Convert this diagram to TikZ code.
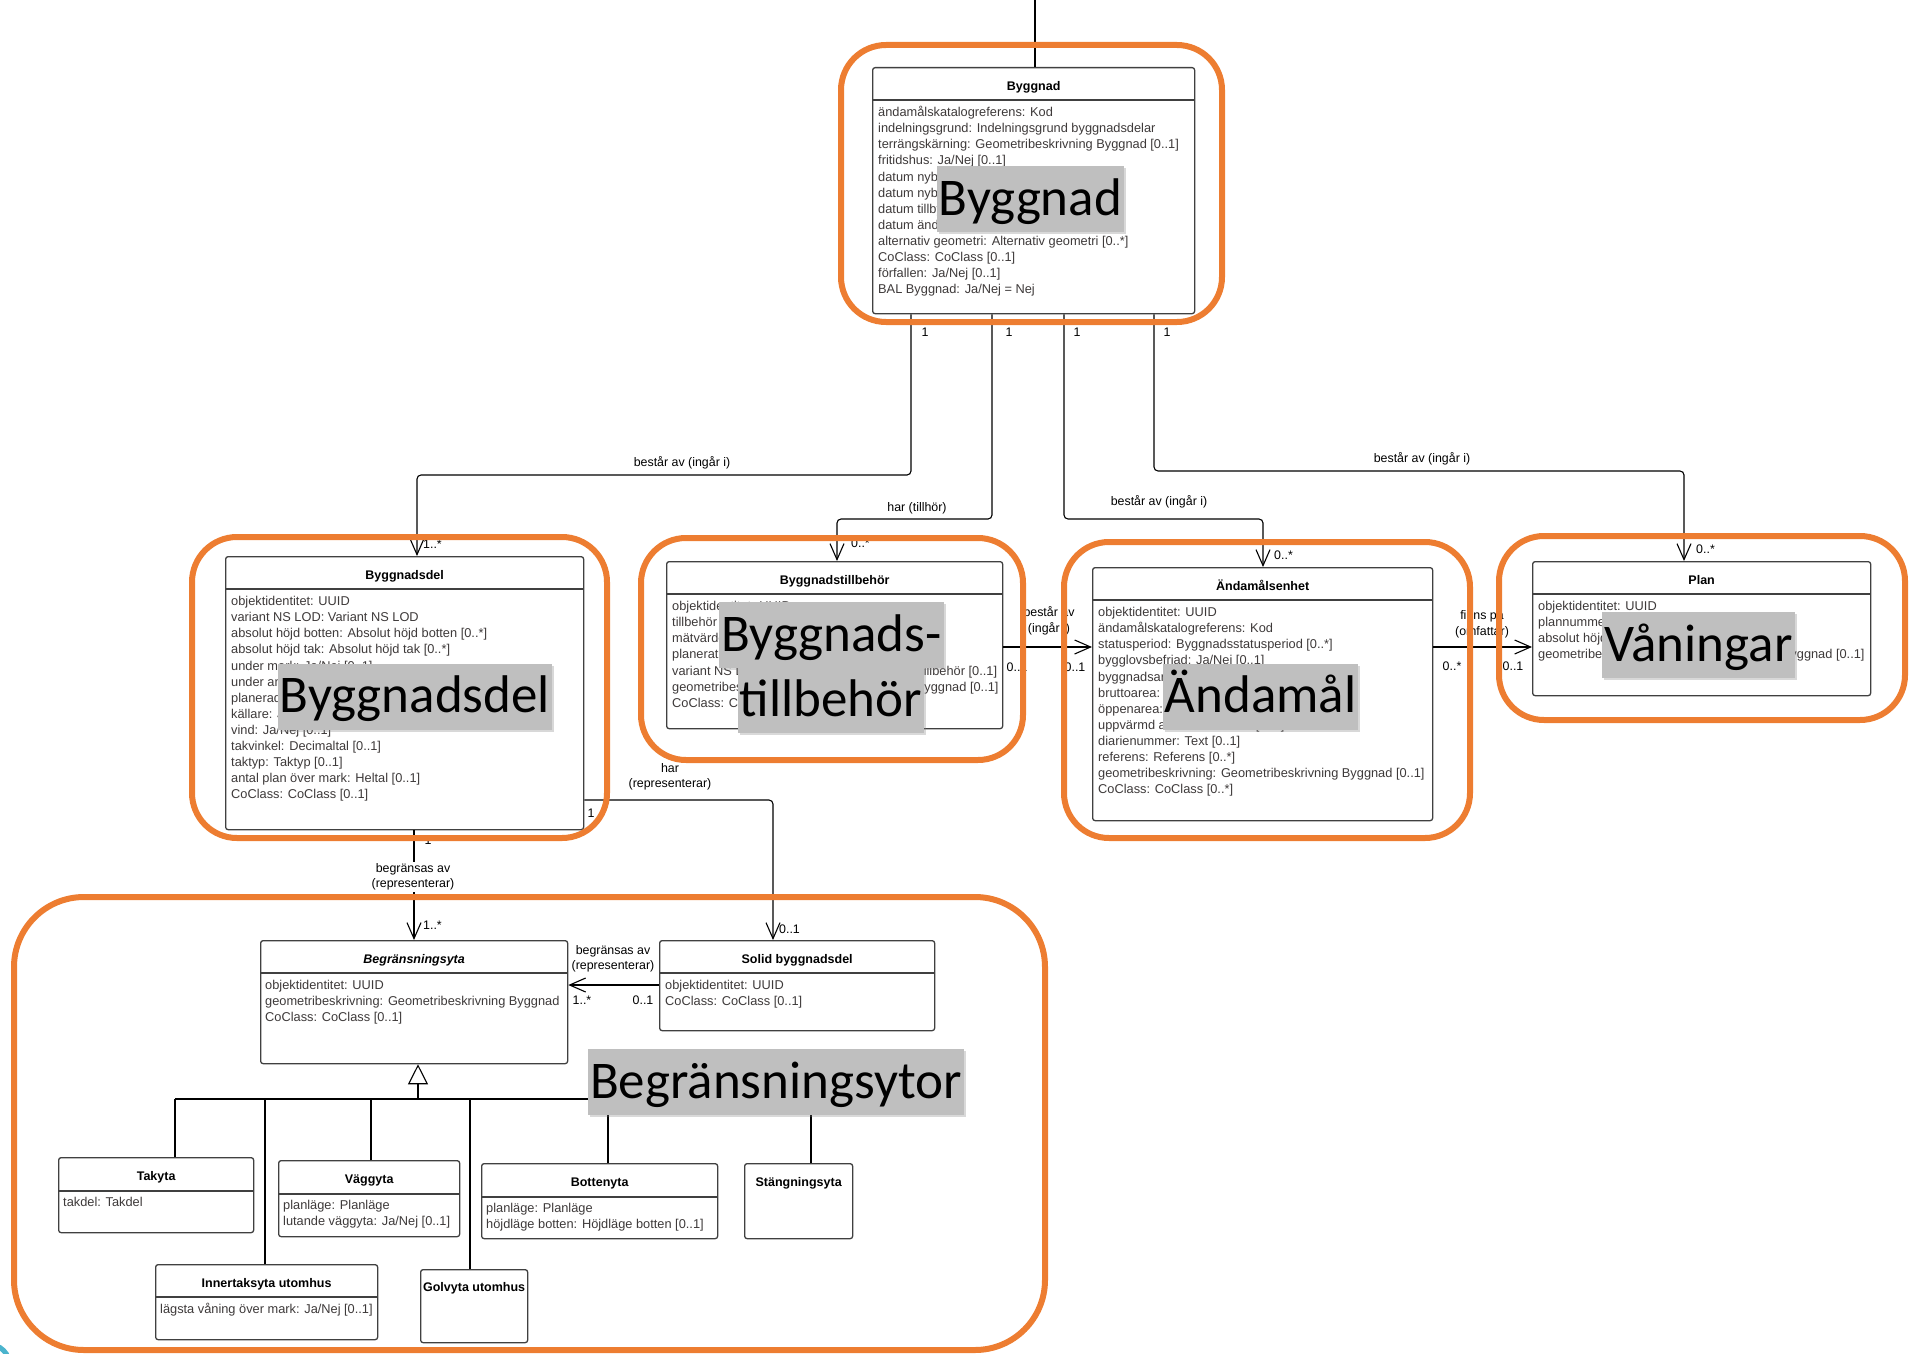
\documentclass[tikz,border=0pt]{standalone}
\usepackage{fontspec}
\setmainfont{Liberation Sans}
\newfontfamily\tagfont{Carlito}
\usetikzlibrary{arrows.meta,shadows}

\definecolor{frameorange}{RGB}{237,125,49}
\definecolor{tagfill}{RGB}{191,191,191}
\definecolor{boxline}{RGB}{64,64,64}
\definecolor{attrtext}{RGB}{62,58,58}
\definecolor{cornerteal}{RGB}{75,180,205}

\newcommand\attrfont{\fontsize{12.8}{16.1}\selectfont}
\newcommand\titlefont{\bfseries\fontsize{12.5}{15}\selectfont}
\newcommand\linkfont{\fontsize{12.4}{15.5}\selectfont}

\begin{document}
\begin{tikzpicture}[x=1pt, y=-1pt,
    classbox/.style={draw=boxline, line width=1.3pt, rounded corners=2.5pt,
      fill=white, inner sep=0pt, anchor=north west},
    classline/.style={draw=boxline, line width=1.3pt},
    classtitle/.style={font=\titlefont, anchor=base, inner sep=0pt},
    attrlist/.style={font=\attrfont, text=attrtext, align=left,
      anchor=north west, inner sep=0pt},
    link/.style={draw=black, line width=1.1pt, rounded corners=4pt},
    assoc/.style={link, -{Straight Barb[length=16pt, width=14pt]}},
    generalize/.style={link, -{Triangle[fill=white, length=20pt, width=20pt]}},
    mult/.style={font=\linkfont, inner sep=0pt},
    rolelabel/.style={font=\linkfont, align=center, inner sep=1pt},
    overlaytag/.style={fill=tagfill, font=\tagfont\fontsize{53}{53}\selectfont,
      text height=40pt, text depth=8pt, inner xsep=2pt, inner ysep=9pt,
      drop shadow={shadow xshift=2pt, shadow yshift=-2pt, opacity=0.3}},
    areaframe/.style={draw=frameorange, line width=6pt, rounded corners=45pt}]

  \useasboundingbox (0,0) rectangle (1909,1354);

  % classes
  \node[classbox, minimum width=322pt, minimum height=246pt] (byggnad) at (872,67) {};
  \draw[classline] ([yshift=-33pt]byggnad.north west) -- ([yshift=-33pt]byggnad.north east);
  \node[classtitle] (byggnad-title) at ([yshift=-23pt]byggnad.north) {Byggnad};
  \node[attrlist] (byggnad-attr) at ([xshift=6pt, yshift=-38.2pt]byggnad.north west)
  {\strut ändamålskatalogreferens: Kod\\
    indelningsgrund: Indelningsgrund byggnadsdelar\\
    terrängskärning: Geometribeskrivning Byggnad [0..1]\\
    fritidshus: Ja/Nej [0..1]\\
    datum nybyggnad\\
    datum nybyggnad\\
    datum tillbyggnad\\
    datum ändring\\
    alternativ geometri: Alternativ geometri [0..*]\\
    CoClass: CoClass [0..1]\\
    förfallen: Ja/Nej [0..1]\\
    BAL Byggnad: Ja/Nej = Nej};

  \node[classbox, minimum width=358pt, minimum height=273pt] (byggnadsdel) at (225,556) {};
  \draw[classline] ([yshift=-33pt]byggnadsdel.north west) -- ([yshift=-33pt]byggnadsdel.north east);
  \node[classtitle] (byggnadsdel-title) at ([yshift=-23pt]byggnadsdel.north) {Byggnadsdel};
  \node[attrlist] (byggnadsdel-attr) at ([xshift=6pt, yshift=-38.2pt]byggnadsdel.north west)
  {\strut objektidentitet: UUID\\
    variant NS LOD: Variant NS LOD\\
    absolut höjd botten: Absolut höjd botten [0..*]\\
    absolut höjd tak: Absolut höjd tak [0..*]\\
    under mark: Ja/Nej [0..1]\\
    under annan\\
    planerad\\
    källare: Ja/Nej\\
    vind: Ja/Nej [0..1]\\
    takvinkel: Decimaltal [0..1]\\
    taktyp: Taktyp [0..1]\\
    antal plan över mark: Heltal [0..1]\\
    CoClass: CoClass [0..1]};

  \node[classbox, minimum width=336pt, minimum height=167pt] (tillbehor) at (666,561) {};
  \draw[classline] ([yshift=-33pt]tillbehor.north west) -- ([yshift=-33pt]tillbehor.north east);
  \node[classtitle] (tillbehor-title) at ([yshift=-23pt]tillbehor.north) {Byggnadstillbehör};
  \node[attrlist] (tillbehor-attr) at ([xshift=6pt, yshift=-38.2pt]tillbehor.north west)
  {\strut objektidentitet: UUID\\
    tillbehör\\
    mätvärde\\
    planerat\\
    variant NS LOD: Variant NS LOD Byggnadstillbehör [0..1]\\
    geometribeskrivning: Geometribeskrivning Byggnad [0..1]\\
    CoClass: CoClass [0..1]};

  \node[classbox, minimum width=340pt, minimum height=253pt] (andamal) at (1092,567) {};
  \draw[classline] ([yshift=-33pt]andamal.north west) -- ([yshift=-33pt]andamal.north east);
  \node[classtitle] (andamal-title) at ([yshift=-23pt]andamal.north) {Ändamålsenhet};
  \node[attrlist] (andamal-attr) at ([xshift=6pt, yshift=-38.2pt]andamal.north west)
  {\strut objektidentitet: UUID\\
    ändamålskatalogreferens: Kod\\
    statusperiod: Byggnadsstatusperiod [0..*]\\
    bygglovsbefriad: Ja/Nej [0..1]\\
    byggnadsarea\\
    bruttoarea:\\
    öppenarea:\\
    uppvärmd area: Decimaltal [0..1]\\
    diarienummer: Text [0..1]\\
    referens: Referens [0..*]\\
    geometribeskrivning: Geometribeskrivning Byggnad [0..1]\\
    CoClass: CoClass [0..*]};

  \node[classbox, minimum width=338pt, minimum height=134pt] (plan) at (1532,561) {};
  \draw[classline] ([yshift=-33pt]plan.north west) -- ([yshift=-33pt]plan.north east);
  \node[classtitle] (plan-title) at ([yshift=-23pt]plan.north) {Plan};
  \node[attrlist] (plan-attr) at ([xshift=6pt, yshift=-38.2pt]plan.north west)
  {\strut objektidentitet: UUID\\
    plannummer\\
    absolut höjd\\
    geometribeskrivning: Geometribeskrivning Byggnad [0..1]};

  \node[classbox, minimum width=307pt, minimum height=123pt] (begr) at (260,940) {};
  \draw[classline] ([yshift=-33pt]begr.north west) -- ([yshift=-33pt]begr.north east);
  \node[classtitle] (begr-title) at ([yshift=-23pt]begr.north) {\itshape Begränsningsyta};
  \node[attrlist] (begr-attr) at ([xshift=5pt, yshift=-38.2pt]begr.north west)
  {\strut objektidentitet: UUID\\
    geometribeskrivning: Geometribeskrivning Byggnad\\
    CoClass: CoClass [0..1]};

  \node[classbox, minimum width=275pt, minimum height=90pt] (solid) at (659,940) {};
  \draw[classline] ([yshift=-33pt]solid.north west) -- ([yshift=-33pt]solid.north east);
  \node[classtitle] (solid-title) at ([yshift=-23pt]solid.north) {Solid byggnadsdel};
  \node[attrlist] (solid-attr) at ([xshift=6pt, yshift=-38.2pt]solid.north west)
  {\strut objektidentitet: UUID\\
    CoClass: CoClass [0..1]};

  \node[classbox, minimum width=195pt, minimum height=75pt] (takyta) at (58,1157) {};
  \draw[classline] ([yshift=-34pt]takyta.north west) -- ([yshift=-34pt]takyta.north east);
  \node[classtitle] (takyta-title) at ([yshift=-23pt]takyta.north) {Takyta};
  \node[attrlist] (takyta-attr) at ([xshift=5pt, yshift=-38.2pt]takyta.north west)
  {\strut takdel: Takdel};

  \node[classbox, minimum width=181pt, minimum height=76pt] (vaggyta) at (278,1160) {};
  \draw[classline] ([yshift=-34pt]vaggyta.north west) -- ([yshift=-34pt]vaggyta.north east);
  \node[classtitle] (vaggyta-title) at ([yshift=-23pt]vaggyta.north) {Väggyta};
  \node[attrlist] (vaggyta-attr) at ([xshift=5pt, yshift=-38.2pt]vaggyta.north west)
  {\strut planläge: Planläge\\
    lutande väggyta: Ja/Nej [0..1]};

  \node[classbox, minimum width=236pt, minimum height=75pt] (bottenyta) at (481,1163) {};
  \draw[classline] ([yshift=-34pt]bottenyta.north west) -- ([yshift=-34pt]bottenyta.north east);
  \node[classtitle] (bottenyta-title) at ([yshift=-23pt]bottenyta.north) {Bottenyta};
  \node[attrlist] (bottenyta-attr) at ([xshift=5pt, yshift=-38.2pt]bottenyta.north west)
  {\strut planläge: Planläge\\
    höjdläge botten: Höjdläge botten [0..1]};

  \node[classbox, minimum width=108pt, minimum height=75pt] (stangning) at (744,1163) {};
  \node[classtitle] (stangning-title) at ([yshift=-23pt]stangning.north) {Stängningsyta};

  \node[classbox, minimum width=222pt, minimum height=75pt] (innertak) at (155,1264) {};
  \draw[classline] ([yshift=-33pt]innertak.north west) -- ([yshift=-33pt]innertak.north east);
  \node[classtitle] (innertak-title) at ([yshift=-23pt]innertak.north) {Innertaksyta utomhus};
  \node[attrlist] (innertak-attr) at ([xshift=5pt, yshift=-38.2pt]innertak.north west)
  {\strut lägsta våning över mark: Ja/Nej [0..1]};

  \node[classbox, minimum width=107pt, minimum height=73pt] (golvyta) at (420,1269) {};
  \node[classtitle] (golvyta-title) at ([yshift=-22pt]golvyta.north) {Golvyta utomhus};

  % associations from Byggnad
  \coordinate (topin) at (1035,0);
  \draw[link] ([xshift=163pt]byggnad.north west) -- (topin);

  \coordinate (s1) at ([xshift=39pt]byggnad.south west);
  \coordinate (s2) at ([xshift=120pt]byggnad.south west);
  \coordinate (s3) at ([xshift=192pt]byggnad.south west);
  \coordinate (s4) at ([xshift=282pt]byggnad.south west);
  \coordinate (t1) at ([xshift=192pt]byggnadsdel.north west);
  \coordinate (t2) at ([xshift=171pt]tillbehor.north west);
  \coordinate (t3) at ([xshift=171pt]andamal.north west);
  \coordinate (t4) at ([xshift=152pt]plan.north west);
  \coordinate (bend1) at (0,475);
  \coordinate (bend2) at (0,519);
  \coordinate (bend4) at (0,471);

  \draw[assoc] (s1) -- (s1 |- bend1) -- (t1 |- bend1) -- (t1);
  \draw[assoc] (s2) -- (s2 |- bend2) -- (t2 |- bend2) -- (t2);
  \draw[assoc] (s3) -- (s3 |- bend2) -- (t3 |- bend2) -- (t3);
  \draw[assoc] (s4) -- (s4 |- bend4) -- (t4 |- bend4) -- (t4);

  \node[rolelabel] (l1) at (682,463) {består av (ingår i)};
  \node[rolelabel] (l2) at (917,508) {har (tillhör)};
  \node[rolelabel] (l3) at (1159,502) {består av (ingår i)};
  \node[rolelabel] (l4) at (1422,459) {består av (ingår i)};
  \node[mult] (m1a) at (925,332) {1};
  \node[mult] (m2a) at (1009,332) {1};
  \node[mult] (m3a) at (1077,332) {1};
  \node[mult] (m4a) at (1167,332) {1};
  \node[mult, anchor=west] (m1b) at (423,544) {1..*};
  \node[mult, anchor=west] (m2b) at (851,543) {0..*};
  \node[mult, anchor=west] (m3b) at (1274,555) {0..*};
  \node[mult, anchor=west] (m4b) at (1696,549) {0..*};

  % side associations
  \draw[assoc] ([yshift=-86pt]tillbehor.north east) -- ([yshift=-80pt]andamal.north west);
  \node[rolelabel] (l5) at (1049,621) {består av\\(ingår i)};
  \node[mult] (m5a) at (1017,667) {0..1};
  \node[mult] (m5b) at (1075,667) {0..1};

  \draw[assoc] ([yshift=-80pt]andamal.north east) -- ([yshift=-86pt]plan.north west);
  \node[rolelabel] (l6) at (1482,624) {finns på\\(omfattar)};
  \node[mult] (m6a) at (1452,666) {0..*};
  \node[mult] (m6b) at (1513,666) {0..1};

  % Byggnadsdel to surfaces
  \draw[assoc] ([xshift=189pt]byggnadsdel.south west) -- ([xshift=154pt]begr.north west);
  \node[rolelabel, fill=white] (l7) at (413,877) {begränsas av\\(representerar)};
  \node[mult] (m7a) at (428,840) {1};
  \node[mult, anchor=west] (m7b) at (423,925) {1..*};

  \coordinate (s8) at ([yshift=-244pt]byggnadsdel.north east);
  \coordinate (t8) at ([xshift=114pt]solid.north west);
  \draw[assoc] (s8) -- (t8 |- s8) -- (t8);
  \node[rolelabel] (l8) at (670,777) {har\\(representerar)};
  \node[mult] (m8a) at (591,813) {1};
  \node[mult, anchor=west] (m8b) at (779,929) {0..1};

  \draw[assoc] ([yshift=-45pt]solid.north west) -- ([yshift=-45pt]begr.north east);
  \node[rolelabel] (l9) at (613,959) {begränsas av\\(representerar)};
  \node[mult] (m9a) at (582,1000) {1..*};
  \node[mult] (m9b) at (643,1000) {0..1};

  % generalisation
  \coordinate (gtip) at ([xshift=158pt]begr.south west);
  \coordinate (gbus) at (0,1099);
  \coordinate (g1) at ([xshift=117pt]takyta.north west);
  \coordinate (g2) at ([xshift=110pt]innertak.north west);
  \coordinate (g3) at ([xshift=93pt]vaggyta.north west);
  \coordinate (g4) at ([xshift=50pt]golvyta.north west);
  \coordinate (g5) at ([xshift=127pt]bottenyta.north west);
  \coordinate (g6) at ([xshift=67pt]stangning.north west);
  \draw[link] (g1 |- gbus) -- (g6 |- gbus);
  \foreach \g in {g1,g2,g3,g4,g5,g6}
    \draw[link] (\g) -- (\g |- gbus);
  \draw[generalize] (gtip |- gbus) -- (gtip);

  % grey tags
  \node[overlaytag] (tag-byggnad) at (1030.5,199) {Byggnad};
  \node[overlaytag] (tag-byggnadsdel) at (415,696.5) {Byggnadsdel};
  \node[overlaytag] (tag-tillbehor1) at (831.5,635) {Byggnads-};
  \node[overlaytag] (tag-tillbehor2) at (831,700) {tillbehör};
  \node[overlaytag] (tag-andamal) at (1260.5,696.5) {Ändamål};
  \node[overlaytag] (tag-plan) at (1698.5,645) {Våningar};
  \node[overlaytag] (tag-begr) at (776,1082) {Begränsningsytor};

  % orange frames
  \draw[areaframe] (841,45) rectangle (1222,322);
  \draw[areaframe] (192,537) rectangle (607,838);
  \draw[areaframe] (641,538) rectangle (1023,760);
  \draw[areaframe] (1064,542) rectangle (1470,838);
  \draw[areaframe] (1499,536) rectangle (1905,720);
  \draw[areaframe, rounded corners=70pt] (14,897) rectangle (1045,1350);

  \draw[cornerteal, line width=5pt] (-12,1366) circle (22pt);
\end{tikzpicture}
\end{document}
